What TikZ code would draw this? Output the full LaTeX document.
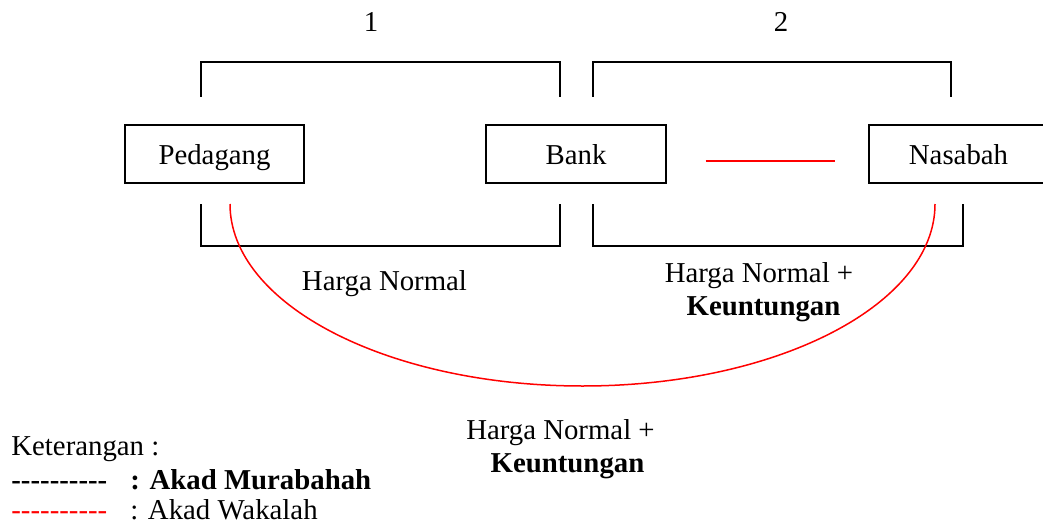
\documentclass[tikz,border=0pt]{standalone}
\usepackage{fontspec}
\setmainfont{Liberation Serif}
\usetikzlibrary{calc}
\newcommand\hyph{\mbox{-}}
\newcommand\tendash{\hyph\hyph\hyph\hyph\hyph\hyph\hyph\hyph\hyph\hyph}
\begin{document}
\begin{tikzpicture}[x=0.5pt,y=-0.5pt,
  every node/.style={inner sep=0pt, font=\fontsize{14.4}{16.5}\selectfont},
  lbl/.style={anchor=base},
  leg/.style={anchor=base west},
  box/.style={draw, line width=0.7pt, minimum height=29pt, text height=10pt, text depth=0pt},
  brk/.style={draw, line width=0.7pt},
  wak/.style={draw=red, line width=0.75pt}]
\useasboundingbox (0,0) rectangle (1043,524);
% boxes
\node[box, minimum width=89.5pt] (ped) at (214.5,154) {Pedagang};
\node[box, minimum width=90pt] (bank) at (576,154) {Bank};
\node[box, minimum width=89.5pt] (nas) at (958.5,154) {Nasabah};
% brackets
\draw[brk] (201,97) -- (201,62) -- (560,62) -- (560,97);
\draw[brk] (593,97) -- (593,62) -- (951,62) -- (951,97);
\draw[brk] (201,204) -- (201,246) -- (560,246) -- (560,204);
\draw[brk] (593,204) -- (593,246) -- (963,246) -- (963,204);
% red connectors
\coordinate (w1) at ($(bank.east)+(39,7)$);
\coordinate (w2) at ($(nas.west)+(-33,7)$);
\draw[wak] (w1) -- (w2);
\coordinate (a1) at (230,204);
\coordinate (a2) at (935,204);
\draw[wak] (a1) .. controls (230,304.5) and (387.8,386) .. (582.5,386)
  .. controls (777.2,386) and (935,304.5) .. (a2);
% labels
\node[lbl] (one) at (371,32) {1};
\node[lbl] (two) at (781,32) {2};
\node[lbl] (hn1) at (384.5,290) {Harga Normal};
\node[lbl] (hn2) at (759,282) {Harga Normal +};
\node[lbl] (ku2) at (763.5,315) {\textbf{Keuntungan}};
\node[lbl] (hn3) at (560.5,439) {Harga Normal +};
\node[lbl] (ku3) at (567.5,472) {\textbf{Keuntungan}};
% legend
\node[leg] (ket) at (11,455) {Keterangan :};
\node[leg] (dm) at (11,489) {\textbf{\tendash}};
\node[leg] (lm) at (130,489) {\textbf{: Akad Murabahah}};
\node[leg, text=red, text depth=0pt] (dw) at (11,519) {\tendash};
\node[leg, text depth=0pt] (lw) at (130,519) {: Akad Wakalah};
\end{tikzpicture}
\end{document}
